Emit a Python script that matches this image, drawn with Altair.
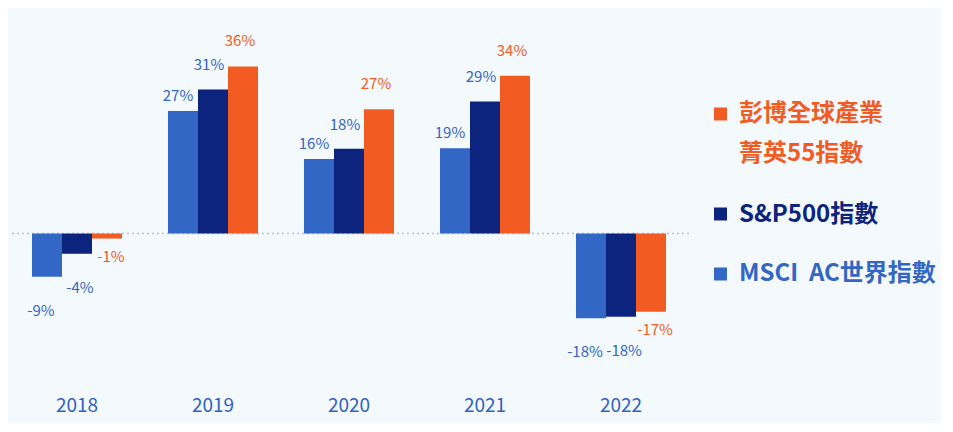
import altair as alt
import pandas as pd

# ---- data ----
years = ["2018", "2019", "2020", "2021", "2022"]
series = ["MSCI AC世界指數", "S&P500指數", "彭博全球產業菁英55指數"]
msci = [-9.4, 26.6, 16.2, 18.5, -18.4]
sp500 = [-4.4, 31.3, 18.4, 28.7, -18.1]
bbg = [-1.1, 36.3, 27.0, 34.3, -17.0]

legend_names = ["彭博全球產業", "菁英55指數", "S&P500指數", "MSCI \u00a0AC世界指數"]

# ---- styles ----
BLUE = "#3367c6"
NAVY = "#0c247e"
ORANGE = "#f25c23"
LABEL_BLUE = "#3366c8"
BG = "#f3f9fd"
FONT = "Noto Sans CJK TC"
W, H = 680, 382

rows = []
for i, yr in enumerate(years):
    for s, vals in zip(series, [msci, sp500, bbg]):
        rows.append({"year": yr, "series": s, "value": vals[i]})
df = pd.DataFrame(rows)

x = alt.X(
    "year:N",
    sort=years,
    scale=alt.Scale(paddingInner=0.338, paddingOuter=0.169),
    axis=alt.Axis(
        title=None, labelAngle=0, labelFontSize=19, labelColor="#2f62c4",
        labelFont=FONT, ticks=False, domain=False, labelPadding=6,
    ),
)
xoff = alt.XOffset("series:N", sort=series, scale=alt.Scale(paddingInner=0, paddingOuter=0))
y = alt.Y("value:Q", scale=alt.Scale(domain=[-34, 49], nice=False), axis=None)

zero = alt.Chart(pd.DataFrame({"value": [0]})).mark_rule(
    color="#a9c3ea", strokeWidth=1.5, strokeDash=[2, 3]
).encode(y=alt.Y("value:Q", axis=None))

bars = alt.Chart(df).mark_bar().encode(
    x=x, xOffset=xoff, y=y,
    color=alt.Color("series:N", sort=series,
                    scale=alt.Scale(domain=series, range=[BLUE, NAVY, ORANGE]), legend=None),
)

text_color = alt.when(alt.datum.series == series[2]).then(alt.value(ORANGE)).otherwise(alt.value(LABEL_BLUE))

base_text = alt.Chart(df).transform_calculate(label="round(datum.value) + '%'")

label_layers = []
# (series, positive dx, positive dy, negative dx, negative dy)
label_style = [(series[0], -5, -15, -6, 34),
               (series[1], -4, -24, 3, 34),
               (series[2], -3, -25, 4, 18)]
for s, pdx, pdy, ndx, ndy in label_style:
    label_layers.append(
        base_text.transform_filter(f"datum.value >= 0 && datum.series == '{s}'").mark_text(
            font=FONT, fontSize=15, baseline="middle", dy=pdy, dx=pdx
        ).encode(x=x, xOffset=xoff, y=y, text="label:N", color=text_color)
    )
    label_layers.append(
        base_text.transform_filter(f"datum.value < 0 && datum.series == '{s}'").mark_text(
            font=FONT, fontSize=15, baseline="middle", dy=ndy, dx=ndx
        ).encode(x=x, xOffset=xoff, y=y, text="label:N", color=text_color)
    )

# ---- custom legend ----
legend_layers = []
sq_items = [(ORANGE, 106), (NAVY, 206), (BLUE, 266)]
for col, yy in sq_items:
    legend_layers.append(
        alt.Chart(pd.DataFrame({"k": [0]})).mark_square(size=169, color=col, opacity=1).encode(
            x=alt.value(711.5), y=alt.value(yy)
        )
    )
txt_items = [(legend_names[0], ORANGE, 106), (legend_names[1], ORANGE, 146),
             (legend_names[2], NAVY, 207), (legend_names[3], BLUE, 266)]
for t, col, yy in txt_items:
    legend_layers.append(
        alt.Chart(pd.DataFrame({"k": [0]})).mark_text(
            font=FONT, fontSize=24, fontWeight="bold", align="left", baseline="middle", color=col
        ).encode(x=alt.value(730), y=alt.value(yy), text=alt.value(t))
    )

chart = alt.layer(zero, bars, *label_layers, *legend_layers).properties(
    width=W, height=H,
    padding={"left": 0, "top": 0, "right": 5, "bottom": 8},
    background=BG,
).configure_view(stroke=None)

chart.save("out.html", embed_options={"renderer": "svg", "actions": False})
